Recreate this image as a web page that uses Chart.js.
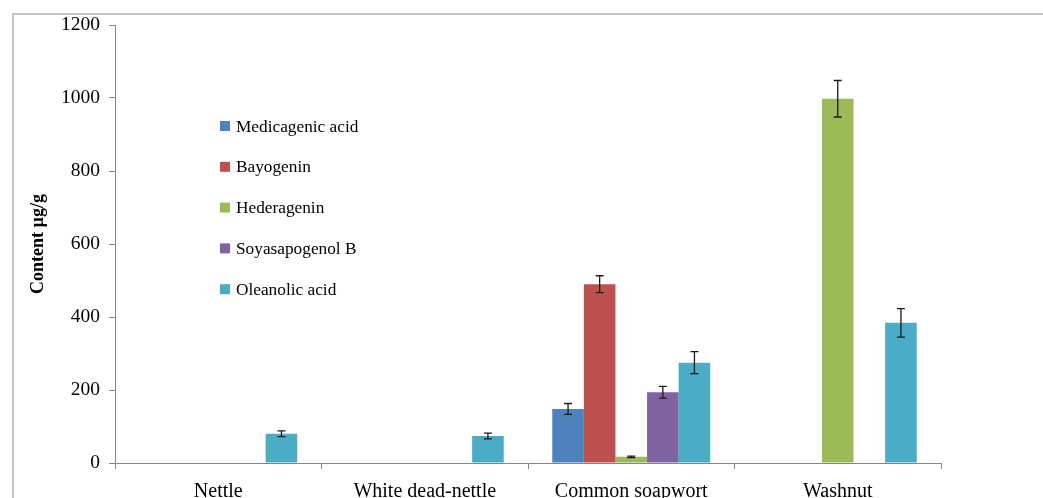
<!DOCTYPE html>
<html>
<head>
<meta charset="utf-8">
<script src="https://cdn.jsdelivr.net/npm/chart.js@4.4.1/dist/chart.umd.min.js"></script>
<style>
  html, body { margin: 0; padding: 0; background: #fff; overflow: hidden; }
  #wrap { position: relative; width: 1043px; height: 498px; }
  #frame { position: absolute; left: 12px; top: 13px; width: 1100px; height: 600px; border: 2px solid #c4c4c4; }
  canvas { position: absolute; left: 0; top: 0; }
</style>
</head>
<body>
<div id="wrap">
  <div id="frame"></div>
  <canvas id="chart" width="1043" height="498"></canvas>
</div>
<script>
const categories = ['Nettle', 'White dead-nettle', 'Common soapwort', 'Washnut'];
const seriesNames = ['Medicagenic acid', 'Bayogenin', 'Hederagenin', 'Soyasapogenol B', 'Oleanolic acid'];
const seriesColors = ['#4F81BD', '#C0504D', '#9BBB59', '#8064A2', '#4BACC6'];

const medicagenic = [null, null, 148, null];
const bayogenin = [null, null, 490, null];
const hederagenin = [null, null, 17, 998];
const soyasapogenol = [null, null, 194, null];
const oleanolic = [80, 74, 275, 384];

const medicagenicErr = [null, null, 15, null];
const bayogeninErr = [null, null, 23, null];
const hederageninErr = [null, null, 2, 50];
const soyasapogenolErr = [null, null, 16, null];
const oleanolicErr = [8, 8, 30, 39];

const yTicks = [0, 200, 400, 600, 800, 1000, 1200];

const values = [medicagenic, bayogenin, hederagenin, soyasapogenol, oleanolic];
const errors = [medicagenicErr, bayogeninErr, hederageninErr, soyasapogenolErr, oleanolicErr];

const serif = "'Liberation Serif', 'Times New Roman', serif";

// error bars drawn on top of each bar
const errorBars = {
  id: 'errorBars',
  afterDatasetsDraw(chart) {
    const ctx = chart.ctx;
    const y = chart.scales.y;
    ctx.save();
    ctx.strokeStyle = '#1a1a1a';
    ctx.lineWidth = 1.3;
    chart.data.datasets.forEach((ds, i) => {
      const meta = chart.getDatasetMeta(i);
      meta.data.forEach((bar, j) => {
        const v = ds.data[j];
        const e = errors[i][j];
        if (v == null || e == null) return;
        const top = y.getPixelForValue(v + e);
        const bot = y.getPixelForValue(v - e);
        const x = bar.x;
        ctx.beginPath();
        ctx.moveTo(x, top); ctx.lineTo(x, bot);
        ctx.moveTo(x - 4, top); ctx.lineTo(x + 4, top);
        ctx.moveTo(x - 4, bot); ctx.lineTo(x + 4, bot);
        ctx.stroke();
      });
    });
    ctx.restore();
  }
};

// legend inside the plot area
const innerLegend = {
  id: 'innerLegend',
  afterDraw(chart) {
    const ctx = chart.ctx;
    const a = chart.chartArea;
    const x0 = a.left + 105;
    const y0 = a.top + 101;
    ctx.save();
    ctx.font = '17.3px ' + serif;
    ctx.textBaseline = 'middle';
    seriesNames.forEach((name, i) => {
      const yy = y0 + i * 40.8;
      ctx.fillStyle = seriesColors[i];
      ctx.fillRect(x0, yy - 5, 10, 10);
      ctx.fillStyle = '#000';
      ctx.fillText(name, x0 + 16, yy + 1);
    });
    ctx.restore();
  }
};

new Chart(document.getElementById('chart'), {
  type: 'bar',
  data: {
    labels: categories,
    datasets: seriesNames.map((name, i) => ({
      label: name,
      data: values[i],
      backgroundColor: seriesColors[i],
      borderWidth: 0,
      categoryPercentage: 0.765,
      barPercentage: 1
    }))
  },
  options: {
    responsive: false,
    animation: false,
    layout: { padding: { left: 12, top: 25, right: 102, bottom: 0 } },
    plugins: {
      legend: { display: false },
      tooltip: { enabled: false }
    },
    scales: {
      x: {
        grid: { display: true, offset: true, drawOnChartArea: false, tickLength: 6, color: '#868686' },
        border: { color: '#868686', width: 1 },
        ticks: { color: '#000', padding: 11, font: { family: serif, size: 20 } },
        afterFit: s => { s.height = 35; }
      },
      y: {
        min: 0,
        max: 1200,
        afterBuildTicks: s => { s.ticks = yTicks.map(v => ({ value: v })); },
        grid: { drawOnChartArea: false, tickLength: 6, color: '#868686' },
        border: { color: '#868686', width: 1 },
        ticks: { color: '#000', padding: 9, font: { family: serif, size: 19.5 }, callback: v => String(v) },
        title: {
          display: true,
          text: 'Content µg/g',
          color: '#000',
          padding: { top: 16, bottom: 0 },
          font: { family: serif, size: 18, weight: 'bold' }
        },
        afterFit: s => { s.width = 103; }
      }
    }
  },
  plugins: [errorBars, innerLegend]
});
</script>
</body>
</html>
